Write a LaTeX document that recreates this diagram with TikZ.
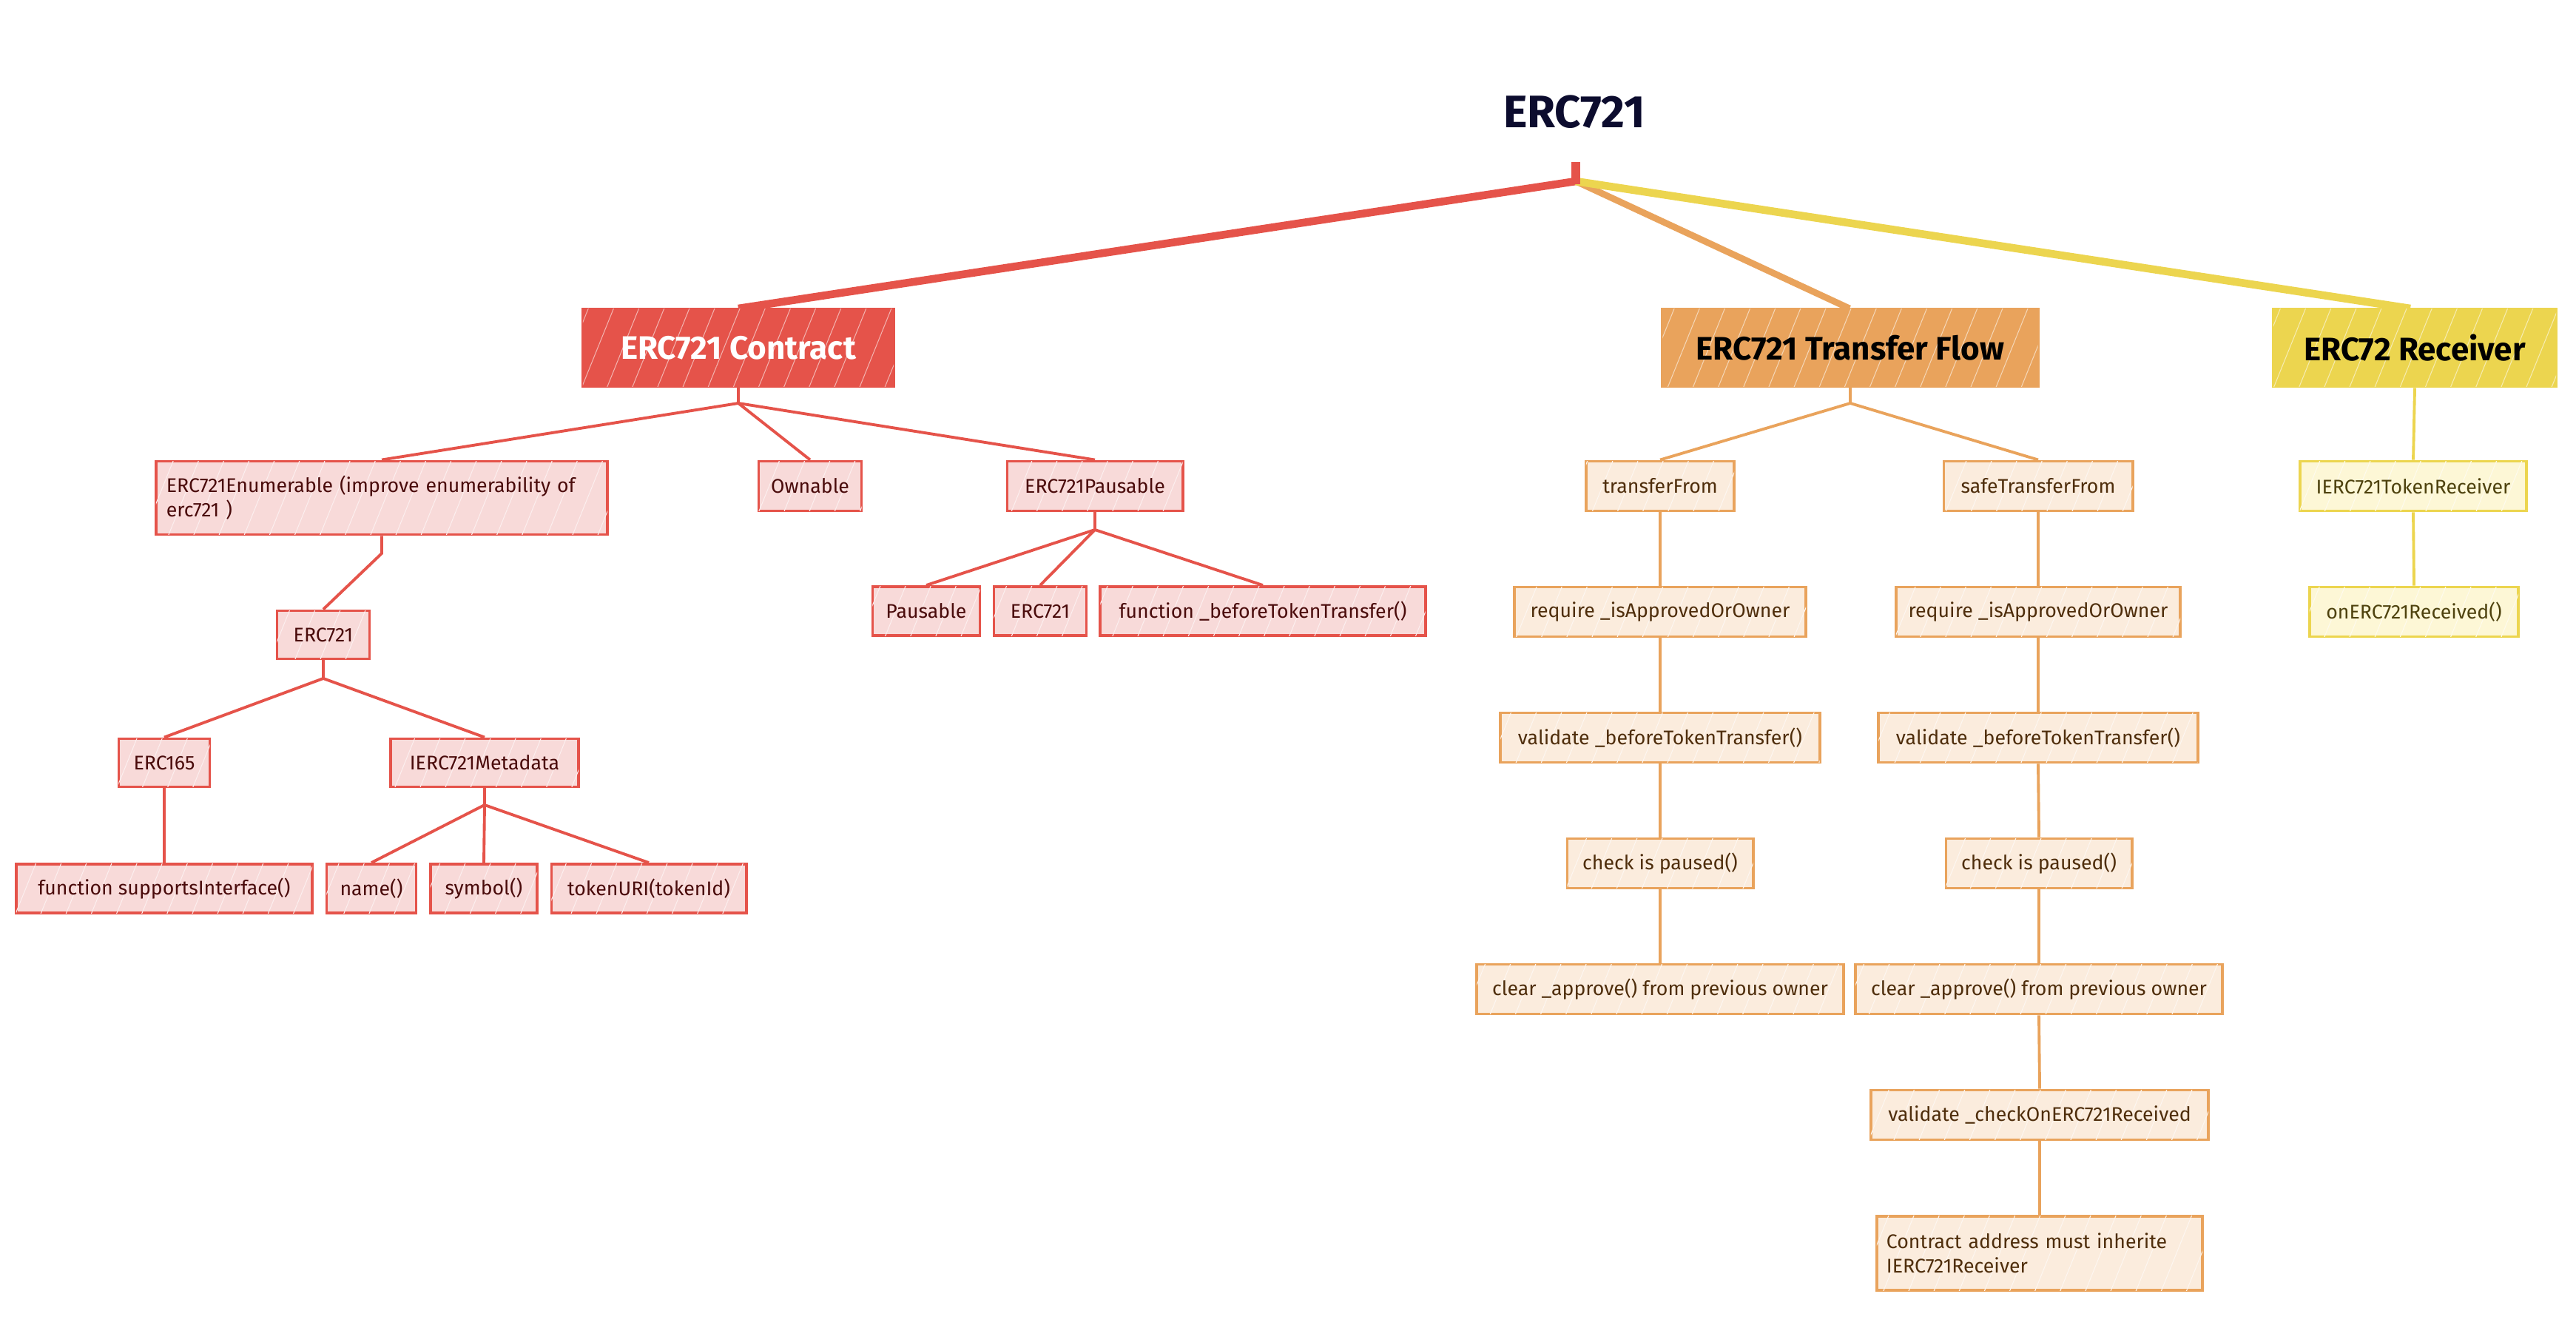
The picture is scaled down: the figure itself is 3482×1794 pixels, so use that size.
\documentclass[tikz,border=0pt]{standalone}
\usepackage{fontspec}
\setmainfont{Fira Sans}
\usetikzlibrary{patterns.meta}
\definecolor{redC}{HTML}{E5534A}
\definecolor{redL}{HTML}{F8DAD9}
\definecolor{redT}{HTML}{4A0B0B}
\definecolor{orC}{HTML}{E9A35C}
\definecolor{orL}{HTML}{FBECDD}
\definecolor{orT}{HTML}{4F2E0C}
\definecolor{yeC}{HTML}{ECD54F}
\definecolor{yeL}{HTML}{FDF7D6}
\definecolor{yeT}{HTML}{4E420E}
\definecolor{titleC}{HTML}{0C0C2E}
\begin{document}
\begin{tikzpicture}[x=0.01cm,y=-0.01cm,
  hatch/.style={postaction={pattern={Lines[angle=68,distance=9pt,line width=0.3pt]},pattern color=white!55!#1}},
  base/.style={line width=1.1pt, inner sep=0pt, align=center, font=\fontsize{7.6}{9.4}\selectfont},
  rc/.style={base, draw=redC, fill=redL, text=redT, hatch=redL},
  oc/.style={base, draw=orC, fill=orL, text=orT, hatch=orL},
  yc/.style={base, draw=yeC, fill=yeL, text=yeT, hatch=yeL},
  top/.style={base, line width=1.1pt, font=\fontsize{12.5}{14}\selectfont\bfseries},
  rl/.style={draw=redC, line width=1.1pt},
  ol/.style={draw=orC, line width=1.1pt},
  yl/.style={draw=yeC, line width=1.1pt},
]
\useasboundingbox (0,0) rectangle (3482,1794);

% title and root
\node[font=\fontsize{17.5}{20}\selectfont\bfseries, text=titleC] (title) at (2128,151) {ERC721};
\coordinate (root) at (2130,245);
\draw[draw=redC, line width=3pt] (root) -- (998,417) coordinate (rootR);
\draw[draw=orC, line width=2.5pt] (root) -- (2500,417) coordinate (rootO);
\draw[draw=yeC, line width=3pt] (root) -- (3258,417) coordinate (rootY);
\node[fill=redC, minimum width=0.12cm, minimum height=0.3cm, inner sep=0pt] (rootmark) at (2130,234) {};

% level 1
\node[top, draw=redC, fill=redC, text=white, hatch=redC, minimum width=4.20cm, minimum height=1.05cm] (contract) at (998,470) {ERC721 Contract};
\node[top, draw=orC, fill=orC, text=black, hatch=orC, minimum width=5.07cm, minimum height=1.05cm] (flow) at (2501,470) {ERC721 Transfer Flow};
\node[top, draw=yeC, fill=yeC, text=black, hatch=yeC, minimum width=3.82cm, minimum height=1.05cm] (recv) at (3264,470) {ERC72 Receiver};

% ---------------- red branch ----------------
\node[rc, minimum width=6.10cm, minimum height=0.99cm, text width=5.82cm, align=left] (enum) at (516,673) {ERC721Enumerable (improve enumerability of\\erc721 )};
\node[rc, minimum width=1.39cm, minimum height=0.67cm] (ownable) at (1095,657) {Ownable};
\node[rc, minimum width=2.37cm, minimum height=0.67cm] (epaus) at (1480,657) {ERC721Pausable};

\node[rc, minimum width=1.25cm, minimum height=0.65cm] (ercmid) at (437,858) {ERC721};
\node[rc, minimum width=1.23cm, minimum height=0.65cm] (erc165) at (222,1031) {ERC165};
\node[rc, minimum width=2.54cm, minimum height=0.65cm] (meta) at (655,1031) {IERC721Metadata};
\node[rc, minimum width=4.00cm, minimum height=0.66cm] (supports) at (222,1201) {function supportsInterface()};
\node[rc, minimum width=1.21cm, minimum height=0.66cm] (name) at (502,1201) {name()};
\node[rc, minimum width=1.44cm, minimum height=0.66cm] (symbol) at (654,1201) {symbol()};
\node[rc, minimum width=2.63cm, minimum height=0.66cm] (tokenuri) at (877,1201) {tokenURI(tokenId)};

\node[rc, minimum width=1.45cm, minimum height=0.66cm] (pausable) at (1252,826) {Pausable};
\node[rc, minimum width=1.25cm, minimum height=0.66cm] (ercb) at (1406,826) {ERC721};
\node[rc, minimum width=4.39cm, minimum height=0.66cm] (before) at (1707,826) {function \_beforeTokenTransfer()};

\coordinate (jc) at (998,545);
\coordinate (je) at (516,748);
\coordinate (jm) at (437,917);
\coordinate (jmeta) at (655,1088);
\coordinate (jp) at (1480,716);

\draw[rl] (contract.south) -- (jc);
\draw[rl] (jc) -- (enum.north);
\draw[rl] (jc) -- (ownable.north);
\draw[rl] (jc) -- (epaus.north);
\draw[rl] (enum.south) -- (je) -- (ercmid.north);
\draw[rl] (ercmid.south) -- (jm);
\draw[rl] (jm) -- (erc165.north);
\draw[rl] (jm) -- (meta.north);
\draw[rl] (erc165.south) -- (supports.north);
\draw[rl] (meta.south) -- (jmeta);
\draw[rl] (jmeta) -- (name.north);
\draw[rl] (jmeta) -- (symbol.north);
\draw[rl] (jmeta) -- (tokenuri.north);
\draw[rl] (epaus.south) -- (jp);
\draw[rl] (jp) -- (pausable.north);
\draw[rl] (jp) -- (ercb.north);
\draw[rl] (jp) -- (before.north);

% ---------------- orange branch ----------------
\node[oc, minimum width=2.00cm, minimum height=0.67cm] (tf) at (2244,657) {transferFrom};
\node[oc, minimum width=3.94cm, minimum height=0.67cm] (reqL) at (2244,827) {require \_isApprovedOrOwner};
\node[oc, minimum width=4.31cm, minimum height=0.67cm] (valL) at (2244,997) {validate \_beforeTokenTransfer()};
\node[oc, minimum width=2.51cm, minimum height=0.67cm] (chkL) at (2244,1167) {check is paused()};
\node[oc, minimum width=4.95cm, minimum height=0.67cm] (clrL) at (2244,1337) {clear \_approve() from previous owner};

\node[oc, minimum width=2.55cm, minimum height=0.67cm] (stf) at (2755,657) {safeTransferFrom};
\node[oc, minimum width=3.84cm, minimum height=0.67cm] (reqR) at (2755,827) {require \_isApprovedOrOwner};
\node[oc, minimum width=4.31cm, minimum height=0.67cm] (valR) at (2755,997) {validate \_beforeTokenTransfer()};
\node[oc, minimum width=2.51cm, minimum height=0.67cm] (chkR) at (2756,1167) {check is paused()};
\node[oc, minimum width=4.95cm, minimum height=0.67cm] (clrR) at (2756,1337) {clear \_approve() from previous owner};
\node[oc, minimum width=4.56cm, minimum height=0.67cm] (chkRecv) at (2757,1507) {validate \_checkOnERC721Received};
\node[oc, minimum width=4.40cm, minimum height=1.00cm, text width=4.14cm, align=left] (inherit) at (2757,1694) {Contract address must inherite\\IERC721Receiver};

\coordinate (jf) at (2501,545);
\draw[ol] (flow.south) -- (jf);
\draw[ol] (jf) -- (tf.north);
\draw[ol] (jf) -- (stf.north);
\draw[ol] (tf.south) -- (reqL.north);
\draw[ol] (reqL.south) -- (valL.north);
\draw[ol] (valL.south) -- (chkL.north);
\draw[ol] (chkL.south) -- (clrL.north);
\draw[ol] (stf.south) -- (reqR.north);
\draw[ol] (reqR.south) -- (valR.north);
\draw[ol] (valR.south) -- (chkR.north);
\draw[ol] (chkR.south) -- (clrR.north);
\draw[ol] (clrR.south) -- (chkRecv.north);
\draw[ol] (chkRecv.south) -- (inherit.north);

% ---------------- yellow branch ----------------
\node[yc, minimum width=3.06cm, minimum height=0.67cm] (itr) at (3262,657) {IERC721TokenReceiver};
\node[yc, minimum width=2.82cm, minimum height=0.67cm] (onrecv) at (3263,827) {onERC721Received()};
\draw[yl] (recv.south) -- (itr.north);
\draw[yl] (itr.south) -- (onrecv.north);
\end{tikzpicture}
\end{document}
